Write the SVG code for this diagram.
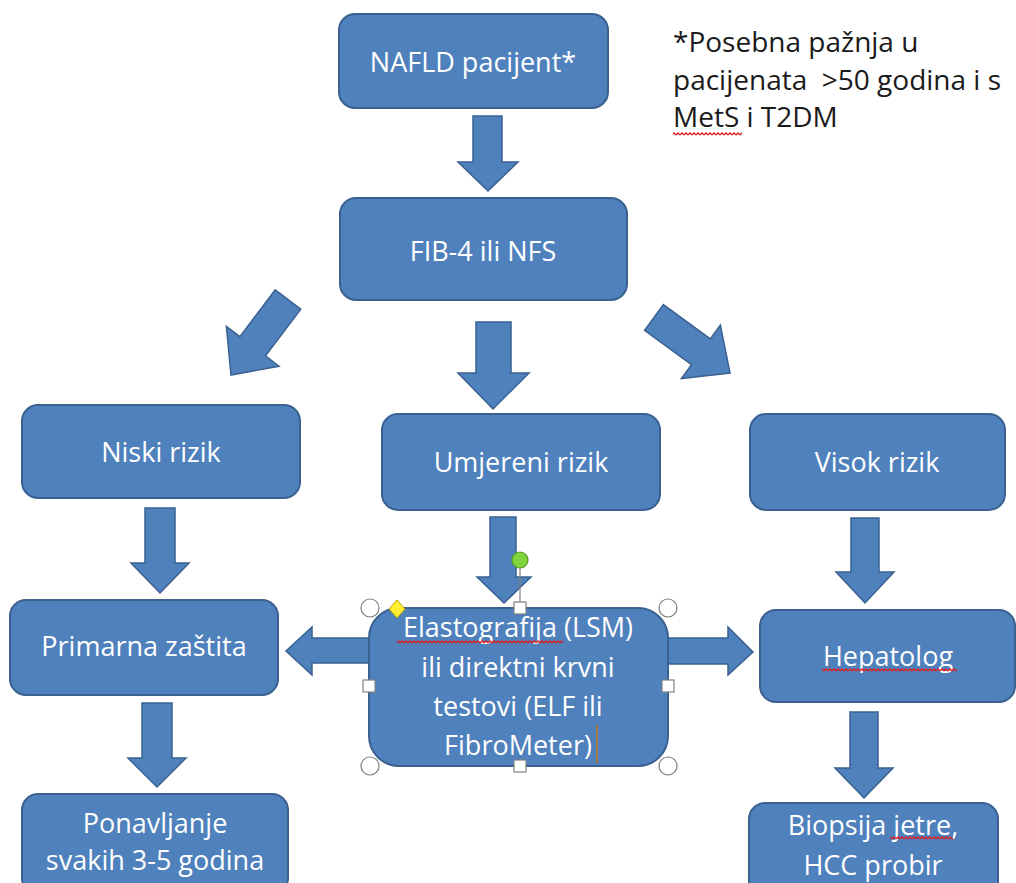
<svg xmlns="http://www.w3.org/2000/svg" width="1016" height="883" viewBox="0 0 1016 883">
  <style>
    .box { fill: #4F81BD; stroke: #3A6190; stroke-width: 2; }
    .arr { fill: #4F81BD; stroke: #3A6190; stroke-width: 1.5; stroke-linejoin: miter; }
    .t { font-family: "Open Sans", "Liberation Sans", sans-serif; font-size: 27px; fill: #FFFFFF; text-anchor: middle; }
    .note { font-family: "Open Sans", "Liberation Sans", sans-serif; font-size: 28px; fill: #1A1A1A; white-space: pre; }
    .hc { fill: #FFFFFF; stroke: #808080; stroke-width: 1.2; }
  </style>
  <defs>
    <pattern id="wavy" x="0" y="0" width="4" height="4" patternUnits="userSpaceOnUse">
      <path d="M0,3 L2,1 L4,3" fill="none" stroke="#E02020" stroke-width="1.3"/>
    </pattern>
  </defs>
  <rect width="1016" height="883" fill="#FFFFFF"/>

  <g id="connectors">
    <polygon class="arr" points="473,116 502,116 502,162 518,162 488,191 458,162 473,162"/>
    <polygon class="arr" points="275.2,289.9 300.8,309.1 265.5,355.9 279,366.2 231,375 226.4,326.4 239.9,336.7"/>
    <polygon class="arr" points="476,322 511,322 511,373 529,373 493,409 458,373 476,373"/>
    <polygon class="arr" points="663.4,304.6 710.3,338.9 720.4,325.1 730,373 681.4,378.5 691.5,364.7 644.6,330.4"/>
    <polygon class="arr" points="145,508 175,508 175,563 189,563 160,593 131,563 145,563"/>
    <polygon class="arr" points="490,517 516,517 516,577 531,577 504,603 477,577 490,577"/>
    <polygon class="arr" points="851,518 879,518 879,572 894,572 865,603 836,572 851,572"/>
    <polygon class="arr" points="372,638 312,638 312,627 286,651 312,675 312,663 372,663"/>
    <polygon class="arr" points="666,638 728,638 728,627 753,652 728,675 728,664 666,664"/>
    <polygon class="arr" points="142,703 172,703 172,758 186,758 157,787 128,758 142,758"/>
    <polygon class="arr" points="850,712 878,712 878,768 893,768 864,798 835,768 850,768"/>
  </g>

  <g id="note">
    <text class="note" x="673" y="52">*Posebna pažnja u</text>
    <text class="note" x="673" y="90" xml:space="preserve">pacijenata  &gt;50 godina i s</text>
    <text class="note" x="673" y="127">MetS i T2DM</text>
    <rect x="673" y="132" width="69" height="4" fill="url(#wavy)"/>
  </g>

  <g id="n-nafld">
    <rect class="box" x="339" y="14" width="269" height="94" rx="16"/>
    <text class="t" x="473" y="72">NAFLD pacijent*</text>
  </g>
  <g id="n-fib4">
    <rect class="box" x="340" y="198" width="287" height="102" rx="16"/>
    <text class="t" x="483" y="261">FIB-4 ili NFS</text>
  </g>
  <g id="n-niski">
    <rect class="box" x="22" y="405" width="278" height="93" rx="16"/>
    <text class="t" x="161" y="462">Niski rizik</text>
  </g>
  <g id="n-umjereni">
    <rect class="box" x="382" y="414" width="278" height="96" rx="16"/>
    <text class="t" x="521" y="472">Umjereni rizik</text>
  </g>
  <g id="n-visok">
    <rect class="box" x="750" y="414" width="255" height="96" rx="16"/>
    <text class="t" x="877" y="472">Visok rizik</text>
  </g>
  <g id="n-primarna">
    <rect class="box" x="10" y="600" width="268" height="95" rx="16"/>
    <text class="t" x="144" y="656">Primarna zaštita</text>
  </g>
  <g id="n-elasto">
    <rect class="box" x="369" y="608" width="299" height="158" rx="30"/>
    <text class="t" x="518" y="637">Elastografija (LSM)</text>
    <text class="t" x="518" y="677">ili direktni krvni</text>
    <text class="t" x="518" y="716">testovi (ELF ili</text>
    <text class="t" x="518" y="755">FibroMeter)</text>
    <rect x="397" y="640" width="166" height="4" fill="url(#wavy)"/>
  </g>
  <g id="n-hepatolog">
    <rect class="box" x="760" y="610" width="255" height="92" rx="16"/>
    <text class="t" x="888" y="666">Hepatolog</text>
    <rect x="822" y="668" width="135" height="4" fill="url(#wavy)"/>
  </g>
  <g id="n-ponavljanje">
    <rect class="box" x="22" y="794" width="266" height="100" rx="16"/>
    <text class="t" x="155" y="833">Ponavljanje</text>
    <text class="t" x="155" y="870">svakih 3-5 godina</text>
  </g>
  <g id="n-biopsija">
    <rect class="box" x="749" y="803" width="249" height="95" rx="16"/>
    <text class="t" x="873" y="835">Biopsija jetre,</text>
    <text class="t" x="873" y="875">HCC probir</text>
    <rect x="890" y="836" width="63" height="4" fill="url(#wavy)"/>
  </g>

  <g id="selection-handles">
    <line x1="520" y1="566" x2="520" y2="603" stroke="#808080" stroke-width="1.2"/>
    <circle cx="520" cy="560" r="8" fill="#7ED63A" stroke="#5A9A2A" stroke-width="1.2"/>
    <line x1="597" y1="725" x2="597" y2="763" stroke="#C07820" stroke-width="1.5"/>
    <circle class="hc" cx="370" cy="608" r="9"/>
    <circle class="hc" cx="668" cy="608" r="9"/>
    <circle class="hc" cx="370" cy="766" r="9"/>
    <circle class="hc" cx="668" cy="766" r="9"/>
    <rect class="hc" x="514" y="602" width="12" height="12"/>
    <rect class="hc" x="514" y="760" width="12" height="12"/>
    <rect class="hc" x="363" y="680" width="12" height="12"/>
    <rect class="hc" x="662" y="680" width="12" height="12"/>
    <polygon points="397,600 405,609 397,618 389,609" fill="#FFEE33" stroke="#B8A000" stroke-width="1"/>
  </g>
</svg>
